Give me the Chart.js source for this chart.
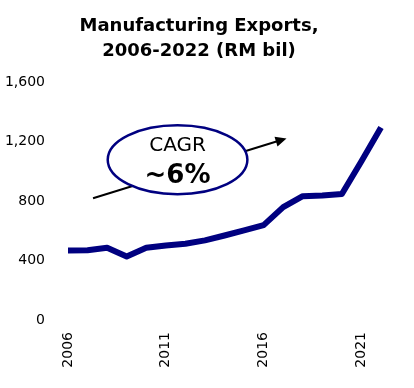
<!DOCTYPE html>
<html>
<head>
<meta charset="utf-8">
<script src="https://cdn.jsdelivr.net/npm/chart.js@4"></script>
<style>
  html, body { margin: 0; padding: 0; background: #fff; }
  #wrap { width: 414px; height: 388px; }
</style>
</head>
<body>
<div id="wrap"><canvas id="c" width="414" height="388"></canvas></div>
<script>
const years = ['2006','2007','2008','2009','2010','2011','2012','2013','2014','2015','2016','2017','2018','2019','2020','2021','2022'];
const exportsRM = [468, 470, 486, 428, 486, 502, 513, 536, 569, 603, 639, 760, 834, 838, 849, 1069, 1297];
const yTicks = [0, 400, 800, 1200, 1600];
const shownYears = ['2006', '2011', '2016', '2021'];
const titleLines = ['Manufacturing Exports,', '2006-2022 (RM bil)'];

// annotation placed in data space (x = category index, y = value)
const cagrNote = {
  arrowFrom: [1.28, 820], arrowTo: [11.17, 1223],
  center: [5.6, 1079], rx: 3.57, ry: 232,
  line1: 'CAGR', line2: '~6%'
};

const notePlugin = {
  id: 'cagrNote',
  afterDatasetsDraw(chart) {
    const { ctx, scales: { x, y } } = chart;
    const px = v => x.getPixelForValue(v);
    const py = v => y.getPixelForValue(v);
    ctx.save();
    // arrow
    const x1 = px(cagrNote.arrowFrom[0]), y1 = py(cagrNote.arrowFrom[1]);
    const x2 = px(cagrNote.arrowTo[0]), y2 = py(cagrNote.arrowTo[1]);
    const ang = Math.atan2(y2 - y1, x2 - x1);
    ctx.strokeStyle = '#000'; ctx.fillStyle = '#000'; ctx.lineWidth = 2;
    ctx.beginPath(); ctx.moveTo(x1, y1);
    ctx.lineTo(x2 - 8 * Math.cos(ang), y2 - 8 * Math.sin(ang)); ctx.stroke();
    ctx.beginPath();
    ctx.moveTo(x2, y2);
    ctx.lineTo(x2 - 11 * Math.cos(ang) + 5 * Math.sin(ang), y2 - 11 * Math.sin(ang) - 5 * Math.cos(ang));
    ctx.lineTo(x2 - 11 * Math.cos(ang) - 5 * Math.sin(ang), y2 - 11 * Math.sin(ang) + 5 * Math.cos(ang));
    ctx.closePath(); ctx.fill();
    // ellipse
    const cx = px(cagrNote.center[0]), cy = py(cagrNote.center[1]);
    const rx = px(cagrNote.center[0] + cagrNote.rx) - cx;
    const ry = cy - py(cagrNote.center[1] + cagrNote.ry);
    ctx.beginPath(); ctx.ellipse(cx, cy, rx, ry, 0, 0, Math.PI * 2);
    ctx.fillStyle = '#fff'; ctx.fill();
    ctx.strokeStyle = '#000080'; ctx.lineWidth = 2.5; ctx.stroke();
    // text
    ctx.fillStyle = '#000'; ctx.textAlign = 'center'; ctx.textBaseline = 'middle';
    ctx.font = '20px "DejaVu Sans", Verdana, sans-serif';
    ctx.fillText(cagrNote.line1, cx, cy - 14);
    ctx.font = 'bold 26px "DejaVu Sans", Verdana, sans-serif';
    ctx.fillText(cagrNote.line2, cx, cy + 16);
    ctx.restore();
  }
};

new Chart(document.getElementById('c'), {
  type: 'line',
  data: {
    labels: years,
    datasets: [{
      data: exportsRM,
      borderColor: '#000080',
      borderWidth: 6,
      pointRadius: 0,
      tension: 0,
      borderJoinStyle: 'round',
      fill: false
    }]
  },
  options: {
    responsive: false,
    animation: false,
    devicePixelRatio: 1,
    layout: { padding: { left: 0, right: 16, top: 0, bottom: 0 } },
    plugins: {
      legend: { display: false },
      tooltip: { enabled: false },
      title: {
        display: true,
        text: titleLines,
        color: '#000',
        font: { family: '"DejaVu Sans", Verdana, sans-serif', size: 18, weight: 'bold', lineHeight: 1.4 },
        padding: { top: 14, bottom: 18 }
      }
    },
    scales: {
      x: {
        type: 'category',
        offset: false,
        grid: { display: false, drawTicks: false },
        border: { display: false },
        ticks: {
          autoSkip: false,
          maxRotation: 90,
          minRotation: 90,
          padding: 12,
          color: '#000',
          font: { family: '"DejaVu Sans", Verdana, sans-serif', size: 14 },
          callback: function (v) { const l = this.getLabelForValue(v); return shownYears.includes(l) ? l : ''; }
        },
        afterFit(s) { s.height = 68; }
      },
      y: {
        min: 0, max: 1600,
        grid: { display: false, drawTicks: false },
        border: { display: false },
        afterBuildTicks(s) { s.ticks = yTicks.map(v => ({ value: v })); },
        ticks: {
          padding: 23,
          color: '#000',
          font: { family: '"DejaVu Sans", Verdana, sans-serif', size: 14 },
          callback: v => v.toLocaleString('en-US')
        },
        afterFit(s) { s.width = 68; }
      },
      y2: {
        position: 'right',
        display: true,
        grid: { display: false, drawTicks: false },
        border: { display: false },
        ticks: { display: false },
        afterFit(s) { s.width = 17; }
      }
    }
  },
  plugins: [notePlugin]
});
</script>
</body>
</html>
